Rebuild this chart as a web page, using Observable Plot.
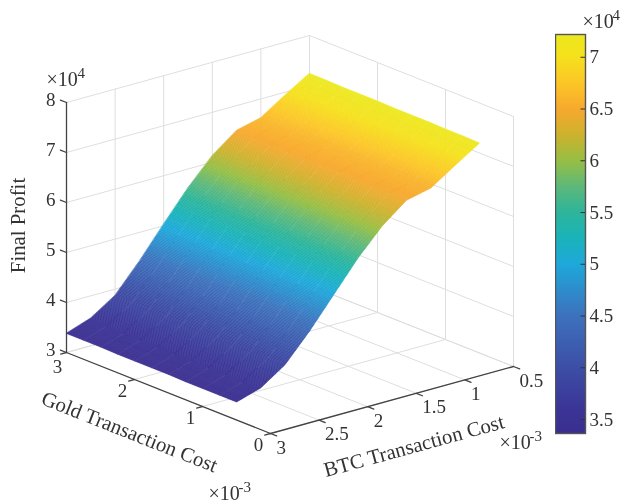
<!DOCTYPE html>
<html><head><meta charset="utf-8">
<style>html,body{margin:0;padding:0;background:#fff}#chart{position:relative;width:622px;height:503px;overflow:hidden}
#chart svg{position:absolute;top:0;filter:blur(0.45px)}</style>
<script src="https://cdn.jsdelivr.net/npm/d3@7"></script>
<script src="https://cdn.jsdelivr.net/npm/@observablehq/plot@0.6"></script>
</head><body><div id="chart"></div>
<script>
// Data (costs in units of 1e-3, profit in units of 1e4)
const goldCost = [3, 2.75, 2.5, 2.25, 2, 1.75, 1.5, 1.25, 1, 0.75, 0.5];
const btcCost = [3, 2.75, 2.5, 2.25, 2, 1.75, 1.5, 1.25, 1, 0.75, 0.5];
const profitG300 = [3.38, 3.55, 3.87, 4.42, 5.03, 5.62, 6.13, 6.50, 6.62, 6.94, 7.24];
const profitG275 = [3.38, 3.55, 3.87, 4.42, 5.02, 5.61, 6.13, 6.49, 6.62, 6.93, 7.24];
const profitG250 = [3.38, 3.54, 3.87, 4.41, 5.02, 5.61, 6.12, 6.49, 6.61, 6.93, 7.23];
const profitG225 = [3.37, 3.54, 3.86, 4.41, 5.01, 5.60, 6.12, 6.49, 6.61, 6.92, 7.23];
const profitG200 = [3.37, 3.53, 3.86, 4.40, 5.01, 5.60, 6.11, 6.48, 6.60, 6.92, 7.23];
const profitG175 = [3.37, 3.53, 3.86, 4.40, 5.00, 5.59, 6.11, 6.48, 6.60, 6.91, 7.22];
const profitG150 = [3.37, 3.53, 3.85, 4.39, 5.00, 5.59, 6.10, 6.48, 6.59, 6.91, 7.22];
const profitG125 = [3.36, 3.52, 3.85, 4.39, 4.99, 5.58, 6.10, 6.47, 6.59, 6.90, 7.22];
const profitG100 = [3.36, 3.52, 3.85, 4.38, 4.98, 5.58, 6.09, 6.47, 6.58, 6.90, 7.21];
const profitG075 = [3.36, 3.51, 3.84, 4.38, 4.98, 5.57, 6.09, 6.47, 6.58, 6.89, 7.21];
const profitG050 = [3.36, 3.51, 3.84, 4.37, 4.97, 5.57, 6.08, 6.46, 6.57, 6.89, 7.20];
const profit = [profitG300, profitG275, profitG250, profitG225, profitG200, profitG175,
                profitG150, profitG125, profitG100, profitG075, profitG050];
const goldTicks = [2, 1, 0];
const goldEnd = [3];
const btcTicks = [3, 2.5, 2, 1.5, 1, 0.5];
const zTicks = [3, 4, 5, 6, 7, 8];
const barTicks = [3.5, 4, 4.5, 5, 5.5, 6, 6.5, 7];
const colorStops = [3.36, 3.6, 4, 4.5, 5, 5.25, 5.5, 5.75, 6, 6.25, 6.5, 6.75, 7, 7.22];
const colorValues = ["#3a2e90", "#3b3596", "#3c4ea6", "#3d72bd", "#1ea9db", "#1ab3ba", "#2db59b",
  "#5db87a", "#96bf45", "#cdb22d", "#f7a92e", "#fcc626", "#f5e11c", "#ece81e"];

// Orthographic view of the axis box
function P(g, b, z = 3) {
  const u = (3 - g) / 3, v = (3 - b) / 2.5, w = (z - 3) / 5;
  return {x: 204 * u + 243 * v, y: -81 * u + 67 * v + 250 * w};
}
const seg = (id, ...pts) => pts.map((p) => ({id, ...P(...p)}));

const GMIN = 0, GMAX = 3, BMIN = 0.5, BMAX = 3, ZMIN = 3, ZMAX = 8;
const goldAll = [...goldEnd, ...goldTicks];
const grid = [
  ...zTicks.flatMap((z) => [...seg("zl" + z, [GMAX, BMAX, z], [GMAX, BMIN, z], [GMIN, BMIN, z])]),
  ...btcTicks.flatMap((b) => seg("bw" + b, [GMIN, b, ZMIN], [GMAX, b, ZMIN], [GMAX, b, ZMAX])),
  ...goldAll.flatMap((g) => seg("gw" + g, [g, BMAX, ZMIN], [g, BMIN, ZMIN], [g, BMIN, ZMAX]))
];
const axes = [
  ...seg("az", [GMAX, BMAX, ZMIN], [GMAX, BMAX, ZMAX]),
  ...seg("ag", [GMAX, BMAX, ZMIN], [GMIN, BMAX, ZMIN]),
  ...seg("ab", [GMIN, BMAX, ZMIN], [GMIN, BMIN, ZMIN]),
  ...zTicks.flatMap((z) => seg("tz" + z, [GMAX, BMAX, z], [GMAX + 0.09, BMAX, z])),
  ...goldAll.flatMap((g) => seg("tg" + g, [g, BMAX, ZMIN], [g, BMAX + 0.06, ZMIN])),
  ...btcTicks.flatMap((b) => seg("tb" + b, [GMIN, b, ZMIN], [GMIN - 0.09, b, ZMIN]))
];

// Shaded surface: each mesh cell is shaded in fine pieces, like MATLAB's interp shading
const pieces = [];
const NB = 30;
for (let i = 0; i < goldCost.length - 1; ++i) for (let j = 0; j < btcCost.length - 1; ++j) {
  const at = (s, t) => {
    const g = goldCost[i] + (goldCost[i + 1] - goldCost[i]) * s;
    const b = btcCost[j] + (btcCost[j + 1] - btcCost[j]) * t;
    const z = (1 - s) * ((1 - t) * profit[i][j] + t * profit[i][j + 1]) + s * ((1 - t) * profit[i + 1][j] + t * profit[i + 1][j + 1]);
    return {g, b, z};
  };
  const xy = ({g, b, z}) => { const p = P(g, b, z); return [p.x, p.y]; };
  for (let c = 0; c < NB; ++c) {
    const t0 = c / NB, t1 = (c + 1) / NB;
    const ring = [at(0, t0), at(1, t0), at(1, t1), at(0, t1), at(0, t0)].map(xy);
    pieces.push({type: "Polygon", coordinates: [ring], value: at(0.5, (t0 + t1) / 2).z});
  }
}
// Faint mesh streaks along the BTC direction
const streaks = goldCost.slice(1, -1).flatMap((g, k) =>
  btcCost.map((b, j) => ({id: "s" + g, ...P(g, b, profit[k + 1][j])})));

const FONT = "Liberation Serif", INK = "#333";
const txt = {fontSize: 19, fill: INK};
const lab = {fontSize: 20.8, fill: INK};
const exp = {fontSize: 20, fill: INK, textAnchor: "start"};
const sup = {fontSize: 15, fill: INK, textAnchor: "start"};
const colorScale = {type: "linear", domain: colorStops, range: colorValues, interpolate: "rgb", clamp: true};

const main = Plot.plot({
  width: 622, height: 503, margin: 0,
  style: {fontFamily: FONT, background: "transparent"},
  x: {domain: [-66, 556], range: [0, 622], axis: null},
  y: {domain: [352, -151], range: [0, 503], axis: null},
  color: colorScale,
  marks: [
    Plot.line(grid, {x: "x", y: "y", z: "id", stroke: "#dedede", strokeWidth: 1}),
    Plot.line(axes, {x: "x", y: "y", z: "id", stroke: "#444", strokeWidth: 1.3}),
    Plot.geo(pieces, {fill: (d) => d.value, stroke: (d) => d.value, strokeWidth: 0.5}),
    Plot.line(streaks, {x: "x", y: "y", z: "id", stroke: "#fff", strokeOpacity: 0.07, strokeWidth: 1.4, strokeDasharray: "26 22"}),
    Plot.text(zTicks, {x: () => P(GMAX, BMAX).x, y: (z) => P(GMAX, BMAX, z).y, text: String, textAnchor: "end", dx: -11, dy: -2.5, ...txt}),
    Plot.text(goldTicks, {x: (g) => P(g, BMAX).x, y: (g) => P(g, BMAX).y, text: String, dx: -12, dy: 11, ...txt}),
    Plot.text(goldEnd, {x: (g) => P(g, BMAX).x, y: (g) => P(g, BMAX).y, text: String, dx: -9, dy: 14, ...txt}),
    Plot.text(btcTicks, {x: (b) => P(GMIN, b).x, y: (b) => P(GMIN, b).y, text: String, textAnchor: "start", dx: 6, dy: 14, ...txt}),
    Plot.text(["Gold Transaction Cost"], {x: () => P(1.5, BMAX).x, y: () => P(1.5, BMAX).y, text: String, rotate: 21.6, dx: -39, dy: 39, ...lab}),
    Plot.text(["BTC Transaction Cost"], {x: () => P(GMIN, 1.75).x, y: () => P(GMIN, 1.75).y, text: String, rotate: -15.4, dx: 22, dy: 46, ...lab}),
    Plot.text(["Final Profit"], {x: () => P(GMAX, BMAX).x, y: () => P(GMAX, BMAX, 5.5).y, text: String, rotate: -90, dx: -48, dy: -2, ...lab}),
    // exponent labels
    Plot.text(["×10"], {x: () => P(GMAX, BMAX).x, y: () => P(GMAX, BMAX, ZMAX).y, text: String, dx: -20, dy: -23, ...exp}),
    Plot.text(["4"], {x: () => P(GMAX, BMAX).x, y: () => P(GMAX, BMAX, ZMAX).y, text: String, dx: 11, dy: -29, ...sup}),
    Plot.text(["×10"], {x: () => P(GMIN, BMAX).x, y: () => P(GMIN, BMAX).y, text: String, dx: -62, dy: 60, ...exp}),
    Plot.text(["-3"], {x: () => P(GMIN, BMAX).x, y: () => P(GMIN, BMAX).y, text: String, dx: -32, dy: 54, ...sup}),
    Plot.text(["×10"], {x: () => P(GMIN, BMIN).x, y: () => P(GMIN, BMIN).y, text: String, dx: -14, dy: 76, ...exp}),
    Plot.text(["-3"], {x: () => P(GMIN, BMIN).x, y: () => P(GMIN, BMIN).y, text: String, dx: 16, dy: 70, ...sup})
  ]
});

// Colorbar, with its own value scale
const bar = Plot.plot({
  width: 67, height: 503, marginLeft: 0, marginRight: 37, marginTop: 34, marginBottom: 70,
  style: {fontFamily: FONT, background: "transparent"},
  x: {domain: [0, 1], axis: null},
  y: {domain: [3.365, 7.22], axis: null},
  color: colorScale,
  marks: [
    Plot.raster({x1: 0, x2: 1, y1: 3.365, y2: 7.22, width: 2, height: 400, fill: (x, y) => y, imageRendering: "auto"}),
    Plot.frame({stroke: "#555", strokeWidth: 1.4}),
    Plot.ruleY(barTicks, {x1: 0.85, x2: 1, stroke: "#333", strokeWidth: 1}),
    Plot.text(barTicks, {x: 1, y: (d) => d, text: String, textAnchor: "start", dx: 4, ...txt}),
    Plot.text(["×10"], {x: 1, y: () => 7.22, text: String, dx: -3, dy: -13, ...exp}),
    Plot.text(["4"], {x: 1, y: () => 7.22, text: String, dx: 27, dy: -19, ...sup})
  ]
});
bar.style.left = "555px";
main.style.left = "0";
document.getElementById("chart").append(main, bar);
</script></body></html>
